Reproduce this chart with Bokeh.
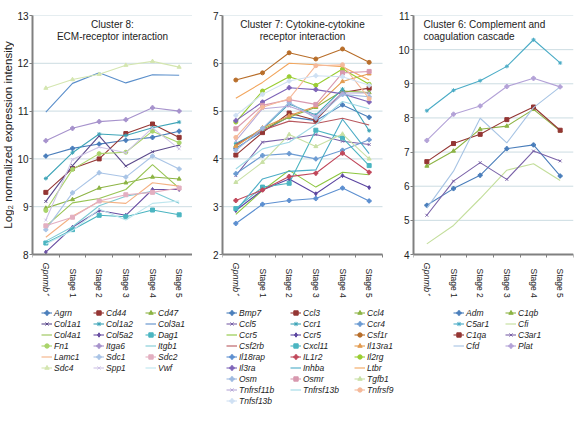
from math import pi
from bokeh.plotting import figure
from bokeh.models import Range1d, FixedTicker, Legend, LegendItem, Label, LinearAxis
from bokeh.layouts import row
from bokeh.embed import file_html
from bokeh.resources import INLINE

FONT = "Liberation Sans"
stages = ["Gpnmb\u207a", "Stage 1", "Stage 2", "Stage 3", "Stage 4", "Stage 5"]
y_title = "Log\u2082 normalized expression intensity"

# ---------------- Cluster 8: ECM-receptor interaction ----------------
c8_agrn = [10.06, 10.22, 10.31, 10.39, 10.45, 10.58]
c8_cd44 = [9.30, 9.80, 10.00, 10.53, 10.73, 10.45]
c8_cd47 = [8.97, 9.15, 9.39, 9.50, 9.62, 9.58]
c8_col1a1 = [9.11, 9.86, 10.48, 9.85, 10.15, 10.29]
c8_col1a2 = [9.59, 10.13, 10.52, 10.49, 10.65, 10.77]
c8_col3a1 = [10.98, 11.58, 11.80, 11.59, 11.76, 11.75]
c8_col4a1 = [8.59, 9.08, 9.17, 9.36, 9.88, 9.39]
c8_col5a2 = [8.05, 8.57, 8.92, 8.82, 9.36, 9.36]
c8_dag1 = [8.24, 8.52, 8.82, 8.79, 8.93, 8.83]
c8_fn1 = [8.92, 9.78, 10.11, 10.14, 10.58, 10.34]
c8_itga6 = [10.38, 10.64, 10.78, 10.82, 11.07, 11.00]
c8_itgb1 = [8.28, 8.58, 9.02, 9.22, 9.32, 9.07]
c8_lamc1 = [8.36, 8.80, 9.11, 9.07, 9.50, 9.43]
c8_sdc1 = [8.52, 9.29, 9.71, 9.62, 10.06, 9.79]
c8_sdc2 = [8.60, 8.78, 9.12, 9.25, 9.30, 9.39]
c8_sdc4 = [11.48, 11.66, 11.77, 11.96, 12.04, 11.92]
c8_spp1 = [8.72, 9.99, 10.25, 10.13, 10.65, 10.21]
c8_vwf = [8.22, 8.50, 8.95, 8.72, 9.07, 9.12]

c8_genes = ["Agrn", "Cd44", "Cd47", "Col1a1", "Col1a2", "Col3a1", "Col4a1", "Col5a2", "Dag1",
            "Fn1", "Itga6", "Itgb1", "Lamc1", "Sdc1", "Sdc2", "Sdc4", "Spp1", "Vwf"]
c8_values = [c8_agrn, c8_cd44, c8_cd47, c8_col1a1, c8_col1a2, c8_col3a1, c8_col4a1, c8_col5a2,
             c8_dag1, c8_fn1, c8_itga6, c8_itgb1, c8_lamc1, c8_sdc1, c8_sdc2, c8_sdc4, c8_spp1, c8_vwf]
c8_colors = ["#4A7EBB", "#943634", "#8DB444", "#5C4A8C", "#3FA5B8", "#5B8FCB", "#98C454", "#6A4FA3",
             "#4BB5C1", "#A9D46A", "#A692CC", "#7FCBD5", "#F4B183", "#A9C4E6", "#E3AFC0", "#D4E6B0",
             "#CEC3E6", "#BDE6EE"]
c8_markers = ["plus", "square", "triangle", "x", "asterisk", None, None, "diamond", "square",
              "circle", "plus", None, None, "plus", "square", "triangle", "x", None]

# ---------------- Cluster 7: Cytokine-cytokine receptor interaction ----------------
c7_bmp7 = [4.22, 4.58, 4.88, 4.80, 5.13, 4.87]
c7_ccl3 = [4.08, 4.55, 4.96, 4.81, 5.39, 5.48]
c7_ccl4 = [4.28, 4.62, 4.87, 5.08, 5.42, 5.39]
c7_ccl5 = [3.65, 4.35, 4.42, 4.51, 4.37, 4.30]
c7_ccr1 = [4.32, 4.62, 5.15, 4.92, 5.46, 4.59]
c7_ccr4 = [3.69, 4.07, 4.11, 4.00, 4.18, 4.40]
c7_ccr5a = [2.84, 3.34, 3.76, 3.41, 3.72, 3.67]
c7_ccr5b = [2.92, 3.35, 3.58, 3.27, 3.65, 3.40]
c7_csf1r = [5.65, 5.80, 6.22, 6.09, 6.30, 6.02]
c7_csf2rb = [4.30, 4.60, 4.79, 4.74, 4.85, 4.71]
c7_cxcl11 = [2.96, 3.41, 3.49, 4.60, 4.44, 3.86]
c7_il13ra1 = [4.26, 4.65, 4.90, 5.10, 5.62, 5.78]
c7_il18rap = [2.65, 3.05, 3.13, 3.17, 3.39, 3.12]
c7_il1r2 = [3.13, 3.35, 3.63, 3.70, 4.12, 3.72]
c7_il2rg = [4.77, 5.42, 5.72, 5.54, 5.88, 5.56]
c7_il3ra = [4.80, 5.19, 5.49, 5.45, 5.36, 5.19]
c7_inhba = [2.92, 3.58, 3.74, 3.77, 4.83, 4.11]
c7_ltbr = [5.27, 5.60, 6.00, 5.97, 5.93, 5.65]
c7_osm = [4.18, 4.64, 5.18, 4.85, 5.35, 5.30]
c7_osmr = [4.63, 5.12, 5.24, 5.14, 5.80, 5.83]
c7_tgfb1 = [3.51, 3.93, 4.51, 4.26, 4.52, 4.00]
c7_tnfrsf11b = [4.38, 5.05, 5.10, 4.90, 5.38, 5.38]
c7_tnfrsf13b = [3.79, 4.21, 4.35, 4.72, 5.20, 5.05]
c7_tnfrsf9 = [4.45, 5.08, 5.26, 5.95, 5.97, 5.26]
c7_tnfsf13b = [4.91, 5.35, 5.63, 5.74, 5.72, 5.54]

c7_genes = ["Bmp7", "Ccl3", "Ccl4", "Ccl5", "Ccr1", "Ccr4", "Ccr5", "Ccr5", "Csf1r", "Csf2rb",
            "Cxcl11", "Il13ra1", "Il18rap", "IL1r2", "Il2rg", "Il3ra", "Inhba", "Ltbr", "Osm",
            "Osmr", "Tgfb1", "Tnfrsf11b", "Tnfrsf13b", "Tnfrsf9", "Tnfsf13b"]
c7_values = [c7_bmp7, c7_ccl3, c7_ccl4, c7_ccl5, c7_ccr1, c7_ccr4, c7_ccr5a, c7_ccr5b, c7_csf1r,
             c7_csf2rb, c7_cxcl11, c7_il13ra1, c7_il18rap, c7_il1r2, c7_il2rg, c7_il3ra, c7_inhba,
             c7_ltbr, c7_osm, c7_osmr, c7_tgfb1, c7_tnfrsf11b, c7_tnfrsf13b, c7_tnfrsf9, c7_tnfsf13b]
c7_colors = ["#4A7EBB", "#943634", "#8DB444", "#7A62A8", "#3FA5B8", "#6C9BD2", "#8DC63F", "#5B45A0",
             "#B86E2A", "#B8585E", "#4BB5C1", "#E39B4F", "#5C8FD0", "#C0475A", "#9ACD32", "#7E64B8",
             "#4BACC6", "#F2A65E", "#9DB9E0", "#D899AF", "#C9E0A5", "#B7A8D8", "#9FD9E5", "#F5B99A",
             "#CFE0F3"]
c7_markers = ["plus", "square", "triangle", "x", "asterisk", "plus", None, "diamond", "circle", None,
              "square", "triangle", "plus", "plus", "circle", "plus", None, None, "plus", "square",
              "triangle", "x", None, "circle", "plus"]

# ---------------- Cluster 6: Complement and coagulation cascade ----------------
c6_adm = [5.44, 5.93, 6.32, 7.10, 7.21, 6.30]
c6_c1qb = [6.59, 7.03, 7.67, 7.76, 8.25, 7.62]
c6_c5ar1 = [8.21, 8.81, 9.09, 9.51, 10.29, 9.61]
c6_cfi = [4.31, 4.85, 5.64, 6.47, 6.66, 6.17]
c6_c1qa = [6.72, 7.25, 7.52, 7.95, 8.32, 7.64]
c6_c3ar1 = [5.15, 6.15, 6.69, 6.20, 7.03, 6.74]
c6_cfd = [5.36, 6.44, 7.99, 7.27, 8.30, 8.91]
c6_plat = [7.34, 8.11, 8.35, 8.92, 9.16, 8.91]

c6_genes = ["Adm", "C1qb", "C5ar1", "Cfi", "C1qa", "C3ar1", "Cfd", "Plat"]
c6_values = [c6_adm, c6_c1qb, c6_c5ar1, c6_cfi, c6_c1qa, c6_c3ar1, c6_cfd, c6_plat]
c6_colors = ["#4A7EBB", "#8DB444", "#4BACC6", "#C3DE9B", "#943634", "#7A62A8", "#A7C4E4", "#B3A2D7"]
c6_markers = ["plus", "triangle", "asterisk", None, "square", "x", None, "plus"]

xs = [i + 0.5 for i in range(len(stages))]
NCAT = len(stages)
AX = "#808080"
TXT = "#222222"

# layout (pixels)
TOP = 15            # border above the frames
PLOT_H = 239        # height of the data area
FRAME_H = 401       # frame also holds category labels and legend below the data area
CAT_W = 160 / NCAT  # pixels per category
LEG_TOP = 286       # legend top, measured from the frame top
ROW_H, ROW_SP, LEG_PAD = 11, 0, 3


def label_axis(p, ylo, ticks, labels, style, size, standoff):
    ax = LinearAxis(fixed_location=ylo)
    ax.ticker = FixedTicker(ticks=ticks)
    ax.major_label_overrides = dict(zip(ticks, labels))
    ax.major_label_orientation = "vertical"
    ax.axis_line_color = None
    ax.major_tick_line_color = None
    ax.minor_tick_line_color = None
    ax.major_tick_out = 3
    ax.major_tick_in = 0
    ax.major_label_standoff = standoff
    ax.major_label_text_font = FONT
    ax.major_label_text_font_size = size
    ax.major_label_text_font_style = style
    ax.major_label_text_color = TXT
    p.add_layout(ax, "below")


def make_panel(genes, values, colors, markers, ylo, yhi, titles, title_left, ncols,
               legend_x, label_width, frame_w, border_left, border_right):
    per_px = (yhi - ylo) / PLOT_H
    p = figure(frame_width=frame_w, frame_height=FRAME_H, output_backend="svg",
               toolbar_location=None, x_axis_location=None,
               x_range=Range1d(0, frame_w / CAT_W), y_range=Range1d(yhi - FRAME_H * per_px, yhi),
               min_border_left=border_left, min_border_right=border_right,
               min_border_top=TOP, min_border_bottom=0,
               background_fill_color="white", border_fill_color="white")
    p.outline_line_color = None
    p.grid.visible = False

    yt = list(range(ylo, yhi + 1))
    # horizontal grid lines across the category span only
    p.segment(x0=[0] * len(yt), x1=[NCAT] * len(yt), y0=yt, y1=yt,
              line_color="#CCDCE2", line_width=1)

    # y axis
    p.yaxis.ticker = FixedTicker(ticks=yt)
    p.yaxis.bounds = (ylo, yhi)
    p.yaxis.axis_line_color = AX
    p.yaxis.axis_line_width = 2
    p.yaxis.major_tick_line_color = AX
    p.yaxis.major_tick_out = 3
    p.yaxis.major_tick_in = 0
    p.yaxis.minor_tick_line_color = None
    p.yaxis.major_label_standoff = 1
    p.yaxis.major_label_text_font = FONT
    p.yaxis.major_label_text_font_size = "10px"
    p.yaxis.major_label_text_color = TXT

    # x axis line with ticks at the category boundaries
    xa = LinearAxis(fixed_location=ylo)
    xa.ticker = FixedTicker(ticks=[], minor_ticks=list(range(NCAT + 1)))
    xa.bounds = (0, NCAT)
    xa.axis_line_color = AX
    xa.axis_line_width = 2
    xa.major_tick_line_color = None
    xa.minor_tick_line_color = AX
    xa.minor_tick_out = 3
    xa.minor_tick_in = 0
    p.add_layout(xa, "below")

    # category labels
    label_axis(p, ylo, xs[:1], stages[:1], "italic", "9px", 5)
    label_axis(p, ylo, xs[1:], stages[1:], "normal", "8.5px", 11)

    items = []
    for g, v, c, m in zip(genes, values, colors, markers):
        rs = [p.line(xs, v, line_color=c, line_width=1.1)]
        if m is not None:
            rs.append(p.scatter(xs, v, marker=m, size=4, line_color=c, fill_color=c, line_width=1))
        items.append(LegendItem(label=g, renderers=rs))

    for k, t in enumerate(titles):
        if title_left:
            lab = Label(x=0, y=yhi, x_offset=10, y_offset=-9 - 12 * k, text=t, text_align="left")
        else:
            lab = Label(x=NCAT / 2, y=yhi, y_offset=-9 - 12 * k, text=t, text_align="center")
        lab.text_baseline = "middle"
        lab.text_font = FONT
        lab.text_font_size = "10px"
        lab.text_color = TXT
        p.add_layout(lab)

    nrows = -(-len(genes) // ncols)
    leg_h = 2 * LEG_PAD + nrows * ROW_H + (nrows - 1) * ROW_SP
    leg_y = FRAME_H - LEG_TOP - leg_h
    leg = Legend(items=items, location=(legend_x, leg_y), orientation="horizontal", ncols=ncols,
                 margin=0, padding=LEG_PAD, spacing=ROW_SP, glyph_width=11, glyph_height=ROW_H,
                 label_height=ROW_H, label_width=label_width, label_standoff=2,
                 label_text_font=FONT, label_text_font_size="8.5px",
                 label_text_font_style="italic", label_text_color=TXT,
                 border_line_color=None, background_fill_alpha=0)
    p.add_layout(leg)
    return p


# y-axis title, drawn in its own narrow strip left of the first panel
ylab = figure(frame_width=14, frame_height=FRAME_H, output_backend="svg", toolbar_location=None,
              x_axis_location=None, y_axis_location=None,
              x_range=Range1d(0, 1), y_range=Range1d(0, FRAME_H),
              min_border_left=0, min_border_right=0, min_border_top=TOP, min_border_bottom=0,
              background_fill_color="white", border_fill_color="white")
ylab.outline_line_color = None
ylab.grid.visible = False
ylab.add_layout(Label(x=0.55, y=FRAME_H - PLOT_H / 2, text=y_title, angle=pi / 2,
                      text_align="center", text_baseline="middle", text_font=FONT,
                      text_font_size="11.5px", text_color=TXT))

p1 = make_panel(c8_genes, c8_values, c8_colors, c8_markers, 8, 13,
                ["Cluster 8:", "ECM-receptor interaction"], False, 3, 9, 39, 160, 16, 0)
p2 = make_panel(c7_genes, c7_values, c7_colors, c7_markers, 2, 7,
                ["Cluster 7: Cytokine-cytokine", "receptor interaction"], False, 3, 4, 51, 173, 30, 0)
p3 = make_panel(c6_genes, c6_values, c6_colors, c6_markers, 4, 11,
                ["Cluster 6: Complement and", "coagulation cascade"], True, 2, 40, 39, 160, 14, 2)

layout = row(ylab, p1, p2, p3)
open("out.html", "w").write(file_html(layout, INLINE))
